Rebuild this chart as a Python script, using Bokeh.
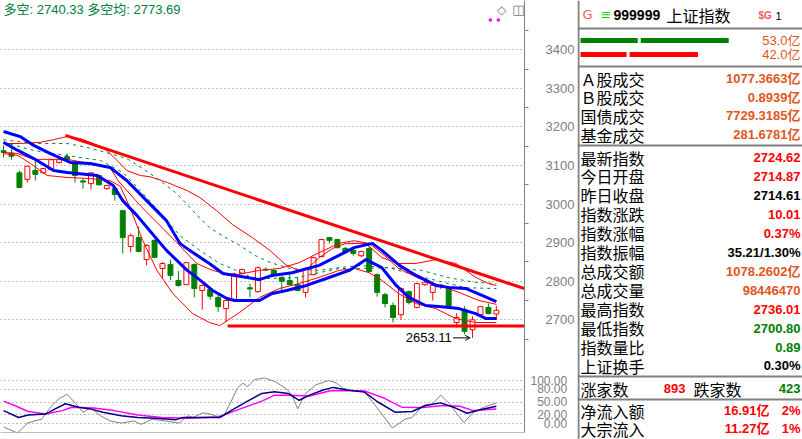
from bokeh.plotting import figure
from bokeh.models import Range1d, FixedTicker, Span, Label, Arrow, OpenHead, ColumnDataSource
from bokeh.layouts import row, column
from bokeh.embed import file_html
from bokeh.resources import INLINE
from bokeh.core.properties import value

# ---------------- data: daily candles ----------------
opens = [3138,3132,3081,3064,3087,3081,3089,3108,3123,3105,3060,3053,3074,3040,3040,2983,2890,2913,2856,2906,
         2833,2843,2802,2791,2843,2776,2779,2758,2729,2752,2820,2783,2773,2831,2828,2810,2802,2791,2771,2817,
         2864,2913,2908,2885,2880,2866,2885,2817,2765,2737,2713,2773,2732,2791,2771,2786,2781,2693,2727,2674,
         2713,2732,2714.87]
highs = [3152,3144,3087,3099,3115,3094,3116,3118,3131,3112,3066,3083,3076,3050,3042,2985,2924,2942,2896,2908,
         2850,2856,2827,2850,2846,2791,2781,2766,2752,2822,2833,2794,2838,2836,2832,2812,2818,2810,2836,2863,
         2910,2915,2910,2889,2885,2879,2898,2820,2770,2745,2783,2776,2796,2800,2793,2793,2783,2717,2735,2709,
         2735,2742,2736.01]
lows = [3121,3115,3041,3056,3061,3078,3088,3105,3113,3056,3040,3038,3048,3038,3009,2872,2875,2875,2841,2860,
        2807,2802,2786,2790,2758,2726,2752,2720,2694,2750,2818,2758,2770,2826,2815,2776,2790,2774,2758,2815,
        2862,2898,2885,2870,2866,2862,2823,2760,2732,2693,2700,2740,2730,2788,2750,2780,2730,2680,2662,2653.11,
        2710,2714,2700.80]
closes = [3134,3124,3043,3098,3077,3092,3115,3115,3115,3074,3057,3081,3050,3048,3025,2913,2918,2877,2893,2862,
          2846,2815,2789,2848,2781,2789,2761,2734,2750,2819,2830,2780,2835,2829,2817,2800,2791,2776,2833,2861,
          2908,2906,2887,2875,2872,2877,2825,2771,2742,2706,2781,2745,2794,2797,2789,2790,2732,2706,2670,2700,
          2734,2716,2724.62]

# ---------------- data: overlay lines (sampled at candle index) ----------------
blue_a_x = [0,2.1,3.8,5.9,8.4,10.9,13.4,15.5,18.0,20.5,22.2,23.4,25.9,27.6,29.1,32.2,33.8,36.3,39.7,42.2,44.1,46.4,47.6,49.8,51.9,54.4,56.0,58.2,60.2,62.0]
blue_a_y = [3188,3175,3152,3131,3108,3105,3095,3061,3009,2957,2898,2880,2846,2820,2815,2804,2815,2822,2841,2867,2887,2898,2880,2841,2815,2789,2784,2781,2763,2747]
blue_b_x = [0,1.8,3.8,6.3,8.0,11.8,13.8,15.0,16.8,18.4,20.5,23.1,24.3,26.3,28.1,29.1,32.2,33.8,35.6,38.1,40.6,43.5,45.6,47.6,49.4,51.0,53.1,55.1,57.3,59.4,60.7,62.0]
blue_b_y = [3160,3139,3118,3087,3082,3074,3048,3009,2970,2931,2880,2828,2810,2776,2755,2750,2750,2768,2776,2789,2807,2828,2856,2835,2789,2758,2737,2734,2729,2716,2703,2703]
band_up_x = [0,2.1,4.6,6.3,8.0,9.6,11.3,13.0,14.3,15.5,17.2,18.4,20.6,23.1,24.7,26.8,28.8,31.3,33.5,35.6,37.2,38.1,39.7,41.4,43.1,45.6,47.6,49.7,51.9,54.4,56.9,59.4,61.0,62.0]
band_up_y = [3157,3157,3160,3167,3175,3170,3157,3139,3113,3087,3074,3071,3056,3035,3017,2983,2947,2913,2880,2841,2828,2830,2861,2885,2898,2898,2861,2846,2846,2856,2846,2810,2794,2789]
band_mid_x = [0,1.8,3.8,8.0,10.9,13.4,14.4,17.2,19.7,21.8,24.3,26.3,28.8,32.2,34.7,37.2,39.7,42.2,44.1,46.0,47.9,49.7,52.3,54.8,57.3,59.8,62.0]
band_mid_y = [3134,3131,3116,3116,3105,3095,3061,2996,2944,2900,2846,2828,2815,2828,2833,2848,2874,2898,2905,2898,2867,2833,2807,2789,2771,2750,2740]
band_lo_x = [0,1.8,3.4,5.5,8.0,10.9,13.4,14.7,15.9,17.5,19.3,21.3,23.8,25.9,27.2,29.7,32.2,34.7,37.2,39.7,42.2,44.1,46.0,47.6,49.7,51.9,54.4,56.9,59.4,62.0]
band_lo_y = [3131,3126,3105,3074,3069,3066,3061,3046,2991,2906,2828,2768,2716,2693,2685,2719,2758,2781,2794,2810,2828,2833,2822,2802,2768,2742,2729,2703,2693,2693]
dash_a_x = [0,3.8,8.0,10.5,13.4,15.5,17.5,19.7,21.8,23.8,25.9,28.1,29.7,31.6,33.5,36.0,39.7,42.2,44.7,49.7,52.6,56.0,59.4,62.0]
dash_a_y = [3167,3157,3157,3147,3131,3118,3092,3061,3027,2983,2939,2911,2893,2867,2849,2833,2828,2835,2841,2833,2828,2809,2797,2794]
dash_b_x = [0,3.8,8.0,12.2,15.0,17.2,19.7,22.2,24.7,27.2,29.3,31.3,33.5,36.8,39.7,42.2,44.7,48.5,51.9,56.0,58.2,62.0]
dash_b_y = [3160,3139,3126,3113,3082,3035,2978,2918,2880,2846,2828,2809,2807,2809,2822,2833,2833,2835,2815,2794,2783,2781]

# hand-drawn lines
trend_x = [7.8, 65.5]
trend_y = [3178, 2781]
support_x = [28.2, 65.5]
support_y = [2684, 2684]

# ---------------- data: oscillator ----------------
osc_gray_x = [0,1.75,3.1,4.8,6.1,7.0,8.0,9.1,10.0,10.7,11.0,12.2,13.4,14.8,16.4,17.3,18.7,20.3,22.1,23.2,23.8,25.1,26.0,26.8,27.7,28.6,29.4,30.1,30.7,31.6,32.8,34.1,35.5,36.3,37.0,38.0,39.3,40.9,41.9,42.7,44.1,45.4,47.1,48.9,49.6,50.5,51.4,52.8,54.0,55.0,56.1,57.9,59.1,60.5,62.0]
osc_gray_y = [-8,-22,2,10,42,58,68,46,26,34,36,18,6,1,6,-2,10,6,1,18,14,25,22,17,18,50,82,94,86,102,106,98,82,66,34,70,90,100,94,82,76,74,34,-10,-2,10,14,42,46,66,46,2,26,38,48]
osc_navy_x = [0,1.9,3.1,5.3,6.5,7.8,8.6,9.5,10.9,12.5,14.8,16.9,19.1,21.7,22.6,27.2,29.0,30.7,32.5,34.1,35.8,37.2,38.5,40.2,41.5,43.2,45.4,47.1,49.3,51.4,53.1,55.0,56.6,58.3,60.0,62.0]
osc_navy_y = [30,14,20,22,34,46,42,38,34,26,18,14,12,9,14,14,34,52,70,74,70,54,66,78,84,78,73,50,26,28,42,48,38,24,32,40]
osc_mag_x = [0,1.4,3.1,5.3,7.4,8.6,11.3,13.9,16.9,19.9,23.3,27.2,29.8,32.5,34.1,35.8,38.5,41.1,45.4,48.0,50.1,52.8,55.3,57.4,59.1,62.0]
osc_mag_y = [52,42,28,22,30,38,36,30,20,14,12,16,34,52,66,66,64,76,76,58,38,37,42,40,30,34]

price_ticks = [2700, 2800, 2900, 3000, 3100, 3200, 3300, 3400]
osc_ticks = [0, 20, 50, 80, 100]
header_text = "多空: 2740.33 多空均: 2773.69"

# ---------------- data: quote panel ----------------
code_text = "999999"
name_text = "上证指数"
green_parts = [20.5, 31.5]
green_total = "53.0亿"
red_parts = [16.5, 24.5]
red_total = "42.0亿"
turnover_labels = ["Ａ股成交", "Ｂ股成交", "国债成交", "基金成交"]
turnover_values = ["1077.3663亿", "0.8939亿", "7729.3185亿", "281.6781亿"]
quote_labels = ["最新指数", "今日开盘", "昨日收盘", "指数涨跌", "指数涨幅", "指数振幅",
                "总成交额", "总成交量", "最高指数", "最低指数", "指数量比", "上证换手"]
quote_values = ["2724.62", "2714.87", "2714.61", "10.01", "0.37%", "35.21/1.30%",
                "1078.2602亿", "98446470", "2736.01", "2700.80", "0.89", "0.30%"]
quote_kinds = ["up", "up", "flat", "up", "up", "flat", "amt", "amt", "up", "down", "down", "flat"]
adv_label, adv_value, dec_label, dec_value = "涨家数", "893", "跌家数", "423"
flow_labels = ["净流入额", "大宗流入"]
flow_values = ["16.91亿", "11.27亿"]
flow_pcts = ["2%", "1%"]

# ---------------- styles ----------------
RED = "#ff0000"
GREEN = "#008000"
BLUE = "#0000ff"
GRAY = "#808080"
ORANGE = "#e0561b"
DGREEN = "#00803c"
NUM_FONT = "Liberation Sans, Noto Sans CJK SC"
CJK_FONT = "Noto Sans CJK SC"
KIND_COLORS = {"up": RED, "down": GREEN, "flat": "#000000", "amt": ORANGE}

X_RANGE = Range1d(-0.38, 65.54)

# ---------------- main price chart ----------------
main = figure(width=577, height=358, x_range=X_RANGE, y_range=Range1d(2599.6, 3527.8),
              output_backend="svg", toolbar_location=None, x_axis_location=None,
              y_axis_location="right", min_border_left=0, min_border_right=51,
              min_border_top=0, min_border_bottom=0, outline_line_color=None,
              background_fill_color="white", border_fill_color="white")
main.xgrid.visible = False
main.ygrid.ticker = FixedTicker(ticks=price_ticks)
main.ygrid.grid_line_color = GRAY
main.ygrid.grid_line_dash = "1 3"
main.ygrid.grid_line_width = 1
ax = main.yaxis[0]
ax.ticker = FixedTicker(ticks=price_ticks,
                        minor_ticks=[t + 50 for t in price_ticks] + [price_ticks[0] - 50])
ax.axis_line_color = GRAY
ax.major_tick_out = 0
ax.major_tick_in = 0
ax.minor_tick_out = 4
ax.minor_tick_in = 0
ax.minor_tick_line_color = GRAY
ax.major_label_text_color = GRAY
ax.major_label_text_font = "Liberation Sans"
ax.major_label_text_font_size = "13px"
ax.major_label_standoff = 17

n = len(opens)
xs = list(range(n))
up = [c >= o for o, c in zip(opens, closes)]
src = ColumnDataSource(dict(
    x=xs, h=highs, l=lows,
    top=[max(o, c) for o, c in zip(opens, closes)],
    bot=[min(o, c) for o, c in zip(opens, closes)],
    col=[RED if u else GREEN for u in up],
    fill=["#ffffff" if u else GREEN for u in up],
))
main.segment(x0="x", y0="h", x1="x", y1="l", line_color="col", line_width=1, source=src)
main.vbar(x="x", width=0.62, top="top", bottom="bot", fill_color="fill", line_color="col",
          line_width=1, source=src)

main.line(dash_a_x, dash_a_y, line_color=DGREEN, line_width=1, line_dash="3 4")
main.line(dash_b_x, dash_b_y, line_color=DGREEN, line_width=1, line_dash="3 4")
main.line(band_up_x, band_up_y, line_color=RED, line_width=1)
main.line(band_mid_x, band_mid_y, line_color=RED, line_width=1)
main.line(band_lo_x, band_lo_y, line_color=RED, line_width=1)
main.line(blue_a_x, blue_a_y, line_color=BLUE, line_width=3)
main.line(blue_b_x, blue_b_y, line_color=BLUE, line_width=3)
main.line(trend_x, trend_y, line_color=RED, line_width=3)
main.line(support_x, support_y, line_color=RED, line_width=3)

low_val = min(lows)
low_idx = lows.index(low_val)
main.text(x=[low_idx - 2.6], y=[low_val], text=[f"{low_val:.2f}"], text_align="right",
          text_baseline="middle", text_font=value("Liberation Sans"), text_font_size="13px",
          text_color="#000000")
main.add_layout(Arrow(end=OpenHead(size=5, line_color="#000000", line_width=1),
                      x_start=low_idx - 2.45, y_start=low_val, x_end=low_idx - 0.3, y_end=low_val,
                      line_color="#000000", line_width=1))

main.add_layout(Label(x=3, y=349, x_units="screen", y_units="screen", text=header_text,
                      text_font=NUM_FONT, text_font_size="13px", text_color="#008040",
                      text_baseline="middle"))
main.add_layout(Label(x=501, y=349, x_units="screen", y_units="screen", text="◇",
                      text_font="DejaVu Sans", text_font_size="12px", text_color=GRAY,
                      text_align="center", text_baseline="middle"))
main.add_layout(Label(x=518, y=349, x_units="screen", y_units="screen", text="◫",
                      text_font="DejaVu Sans", text_font_size="13px", text_color=GRAY,
                      text_align="center", text_baseline="middle"))
for dx in (490, 498):
    main.add_layout(Label(x=dx, y=339, x_units="screen", y_units="screen", text="■",
                          text_font="DejaVu Sans", text_font_size="4px", text_color="#ff00ff",
                          text_align="center", text_baseline="middle"))

# ---------------- oscillator ----------------
sub = figure(width=577, height=81, x_range=X_RANGE, y_range=Range1d(-20.9, 151.2),
             output_backend="svg", toolbar_location=None, x_axis_location=None,
             y_axis_location="right", min_border_left=0, min_border_right=51,
             min_border_top=0, min_border_bottom=7, outline_line_color=None,
             background_fill_color="white", border_fill_color="white")
sub.xgrid.visible = False
sub.ygrid.ticker = FixedTicker(ticks=osc_ticks)
sub.ygrid.grid_line_color = GRAY
sub.ygrid.grid_line_dash = "1 3"
sax = sub.yaxis[0]
sax.ticker = FixedTicker(ticks=osc_ticks)
sax.axis_line_color = GRAY
sax.major_tick_out = 0
sax.major_tick_in = 0
sax.minor_tick_out = 0
sax.minor_tick_in = 0
sax.major_label_text_color = GRAY
sax.major_label_text_font = "Liberation Sans"
sax.major_label_text_font_size = "12px"
sax.major_label_standoff = 6
widest = max(len(f"{t:.2f}") for t in osc_ticks)
sax.major_label_overrides = {t: f"{t:.2f}".rjust(widest, "\u2007") for t in osc_ticks}
sub.add_layout(Span(location=sub.y_range.start, dimension="width", line_color=GRAY, line_width=1))
sub.line(osc_gray_x, osc_gray_y, line_color=GRAY, line_width=1)
sub.line(osc_mag_x, osc_mag_y, line_color="#ff00ff", line_width=1.5)
sub.line(osc_navy_x, osc_navy_y, line_color="#000080", line_width=1.5)

# ---------------- quote panel ----------------
PW, PH = 225, 439
panel = figure(width=PW, height=PH, x_range=Range1d(0, PW), y_range=Range1d(PH, 0),
               output_backend="svg", toolbar_location=None, x_axis_location=None,
               y_axis_location=None, min_border=0, outline_line_color=None,
               background_fill_color="white", border_fill_color="white")
panel.grid.visible = False

sep_y = [28, 66, 145, 376, 399]
panel.segment(x0=[0] * len(sep_y), y0=sep_y, x1=[PW] * len(sep_y), y1=sep_y,
              line_color=GRAY, line_width=2)
panel.segment(x0=[1], y0=[0], x1=[1], y1=[PH], line_color=GRAY, line_width=2)

# header
panel.text(x=[5], y=[14], text=["G"], text_font=value("DejaVu Sans"), text_font_size="13px",
           text_color="#ff5a5a", text_baseline="middle")
panel.text(x=[23], y=[14], text=["≡"], text_font=value("DejaVu Sans"), text_font_size="13px",
           text_color="#22cc22", text_baseline="middle")
panel.text(x=[36], y=[14], text=[code_text], text_font=value("Liberation Sans"),
           text_font_size="14px", text_font_style="bold", text_color="#000000", text_baseline="middle")
panel.text(x=[89], y=[14], text=[name_text], text_font=value(CJK_FONT), text_font_size="16px",
           text_color="#000000", text_baseline="middle")
panel.text(x=[181], y=[15], text=["$G"], text_font=value("Liberation Sans"), text_font_size="10px",
           text_font_style="bold", text_color="#ff5a5a", text_baseline="middle")
panel.text(x=[198], y=[15], text=["1"], text_font=value("Liberation Sans"), text_font_size="11px",
           text_color="#000000", text_baseline="middle")

# volume bars
PX_PER = 148 / 53.0
GAP = 3
def bar_segments(parts):
    lefts, rights, x = [], [], 3
    for p_ in parts:
        lefts.append(x)
        rights.append(x + p_ * PX_PER)
        x = x + p_ * PX_PER + GAP
    return lefts, rights
gl, gr = bar_segments(green_parts)
panel.hbar(y=[40] * len(gl), left=gl, right=gr, height=5, fill_color=GREEN, line_color=None)
rl, rr = bar_segments(red_parts)
panel.hbar(y=[54] * len(rl), left=rl, right=rr, height=5, fill_color=RED, line_color=None)
panel.text(x=[223, 223], y=[40, 54], text=[green_total, red_total], text_align="right",
           text_baseline="middle", text_font=value(NUM_FONT), text_font_size="13px",
           text_color=ORANGE)

LX, RX = 3, 223
# turnover rows
ty = [78 + 18.7 * i for i in range(len(turnover_labels))]
panel.text(x=[LX] * len(ty), y=ty, text=turnover_labels, text_font=value(CJK_FONT),
           text_font_size="16px", text_color="#000000", text_baseline="middle")
panel.text(x=[RX] * len(ty), y=ty, text=turnover_values, text_font=value(NUM_FONT),
           text_font_size="13px", text_font_style="bold", text_color=ORANGE,
           text_align="right", text_baseline="middle")

# quote rows
qy = [157 + 18.95 * i for i in range(len(quote_labels))]
panel.text(x=[LX] * len(qy), y=qy, text=quote_labels, text_font=value(CJK_FONT),
           text_font_size="16px", text_color="#000000", text_baseline="middle")
qsrc = ColumnDataSource(dict(x=[RX] * len(qy), y=qy, t=quote_values,
                             c=[KIND_COLORS[k] for k in quote_kinds]))
panel.text(x="x", y="y", text="t", text_color="c", source=qsrc, text_font=value(NUM_FONT),
           text_font_size="13px", text_font_style="bold", text_align="right", text_baseline="middle")

# advance / decline
ay = 388
panel.text(x=[LX, 116], y=[ay, ay], text=[adv_label, dec_label], text_font=value(CJK_FONT),
           text_font_size="16px", text_color="#000000", text_baseline="middle")
panel.text(x=[108], y=[ay], text=[adv_value], text_font=value("Liberation Sans"),
           text_font_size="13px", text_font_style="bold", text_color=RED, text_align="right",
           text_baseline="middle")
panel.text(x=[RX], y=[ay], text=[dec_value], text_font=value("Liberation Sans"),
           text_font_size="13px", text_font_style="bold", text_color=GREEN, text_align="right",
           text_baseline="middle")

# flows
fy = [410 + 18 * i for i in range(len(flow_labels))]
panel.text(x=[LX] * len(fy), y=fy, text=flow_labels, text_font=value(CJK_FONT),
           text_font_size="16px", text_color="#000000", text_baseline="middle")
panel.text(x=[192] * len(fy), y=fy, text=flow_values, text_font=value(NUM_FONT),
           text_font_size="13px", text_font_style="bold", text_color=RED, text_align="right",
           text_baseline="middle")
panel.text(x=[RX] * len(fy), y=fy, text=flow_pcts, text_font=value("Liberation Sans"),
           text_font_size="13px", text_font_style="bold", text_color=RED, text_align="right",
           text_baseline="middle")

layout = row(column(main, sub, spacing=0), panel, spacing=0)
open("out.html", "w").write(file_html(layout, INLINE))
